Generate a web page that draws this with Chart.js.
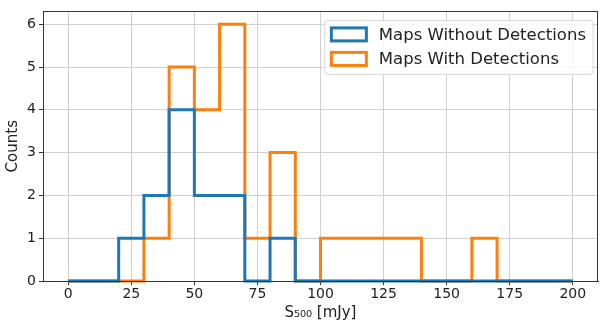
<!DOCTYPE html>
<html lang="en">
<head>
    <meta charset="UTF-8">
    <title>S500 histogram</title>
    <script src="https://cdn.jsdelivr.net/npm/chart.js"></script>
    <style>
        body { margin: 0; background: #fff; }
        #wrap { width: 600px; height: 323px; }
    </style>
</head>
<body>
    <div id="wrap"><canvas id="histChart" width="600" height="323"></canvas></div>

    <script>
        // bin edges 0..200 step 10, counts per bin
        const binEdges = [0, 10, 20, 30, 40, 50, 60, 70, 80, 90, 100, 110, 120, 130, 140, 150, 160, 170, 180, 190, 200];
        const withoutCounts = [0, 0, 1, 2, 4, 2, 2, 0, 1, 0, 0, 0, 0, 0, 0, 0, 0, 0, 0, 0];
        const withCounts = [0, 0, 0, 1, 5, 4, 6, 1, 3, 0, 1, 1, 1, 1, 0, 0, 1, 0, 0, 0];
        const seriesNames = ['Maps Without Detections', 'Maps With Detections'];
        const xTicks = [0, 25, 50, 75, 100, 125, 150, 175, 200];
        const yTicks = [0, 1, 2, 3, 4, 5, 6];

        const BLUE = '#1f77b4';
        const ORANGE = '#ff7f0e';
        const FONT = 'DejaVu Sans';

        function stepPoints(counts) {
            const pts = counts.map((c, i) => ({ x: binEdges[i], y: c }));
            pts.push({ x: binEdges[binEdges.length - 1], y: 0 });
            return pts;
        }

        // frame + legend box like matplotlib
        const framePlugin = {
            id: 'frame',
            afterDraw(chart) {
                const ctx = chart.ctx;
                const a = chart.chartArea;
                ctx.save();
                ctx.strokeStyle = '#333';
                ctx.lineWidth = 1;
                ctx.strokeRect(Math.round(a.left) + 0.5, Math.round(a.top) + 0.5,
                    Math.round(a.right - a.left) - 1, Math.round(a.bottom - a.top));

                // legend
                ctx.font = '16.5px "' + FONT + '"';
                const sw = 35, sh = 13, gap = 13, rowH = 24.5;
                let tw = 0;
                chart.data.datasets.forEach(d => { tw = Math.max(tw, ctx.measureText(d.label).width); });
                const bw = 5 + sw + gap + tw + 8;
                const bh = 54;
                const bx = a.right - 5 - bw;
                const by = a.top + 9;
                ctx.fillStyle = 'rgba(255,255,255,0.85)';
                ctx.strokeStyle = '#d6d6d6';
                ctx.beginPath();
                ctx.roundRect(bx, by, bw, bh, 3);
                ctx.fill();
                ctx.stroke();
                chart.data.datasets.forEach((d, i) => {
                    const cy = by + 14 + i * rowH;
                    ctx.strokeStyle = d.borderColor;
                    ctx.lineWidth = 3;
                    ctx.strokeRect(bx + 6.5, cy - sh / 2, sw, sh);
                    ctx.fillStyle = '#222';
                    ctx.textBaseline = 'middle';
                    ctx.textAlign = 'left';
                    ctx.fillText(d.label, bx + 6 + sw + gap, cy + 1);
                });
                ctx.restore();
            }
        };

        const ctx = document.getElementById('histChart').getContext('2d');
        new Chart(ctx, {
            type: 'line',
            data: {
                datasets: [
                    {
                        label: seriesNames[0],
                        data: stepPoints(withoutCounts),
                        borderColor: BLUE,
                        borderWidth: 3,
                        stepped: true,
                        pointRadius: 0,
                        fill: false,
                        clip: false
                    },
                    {
                        label: seriesNames[1],
                        data: stepPoints(withCounts),
                        borderColor: ORANGE,
                        borderWidth: 3,
                        stepped: true,
                        pointRadius: 0,
                        fill: false,
                        clip: false
                    }
                ]
            },
            options: {
                responsive: false,
                animation: false,
                layout: { padding: { top: 8, right: 2, left: 0, bottom: 0 } },
                plugins: {
                    legend: { display: false },
                    tooltip: { enabled: false }
                },
                scales: {
                    x: {
                        type: 'linear',
                        min: -10,
                        max: 210,
                        afterBuildTicks: axis => { axis.ticks = xTicks.map(v => ({ value: v })); },
                        afterFit: axis => { axis.height = 42; },
                        ticks: { color: '#222', font: { family: FONT, size: 14 }, padding: 1, maxRotation: 0 },
                        grid: { color: '#d0d0d0', tickColor: '#333', tickLength: 4 },
                        border: { color: '#333' },
                        title: {
                            display: true,
                            text: 'S₅₀₀ [mJy]',
                            color: '#222',
                            font: { family: FONT, size: 15 },
                            padding: { top: 0, bottom: 1 }
                        }
                    },
                    y: {
                        min: 0,
                        max: 6.3,
                        afterBuildTicks: axis => { axis.ticks = yTicks.map(v => ({ value: v })); },
                        afterFit: axis => { axis.width = 43; },
                        ticks: { color: '#222', font: { family: FONT, size: 14 }, padding: 3 },
                        grid: { color: '#d0d0d0', tickColor: '#333', tickLength: 4 },
                        border: { color: '#333' },
                        title: {
                            display: true,
                            text: 'Counts',
                            color: '#222',
                            font: { family: FONT, size: 15 },
                            padding: { top: 4, bottom: 0 }
                        }
                    }
                }
            },
            plugins: [framePlugin]
        });
    </script>
</body>
</html>
